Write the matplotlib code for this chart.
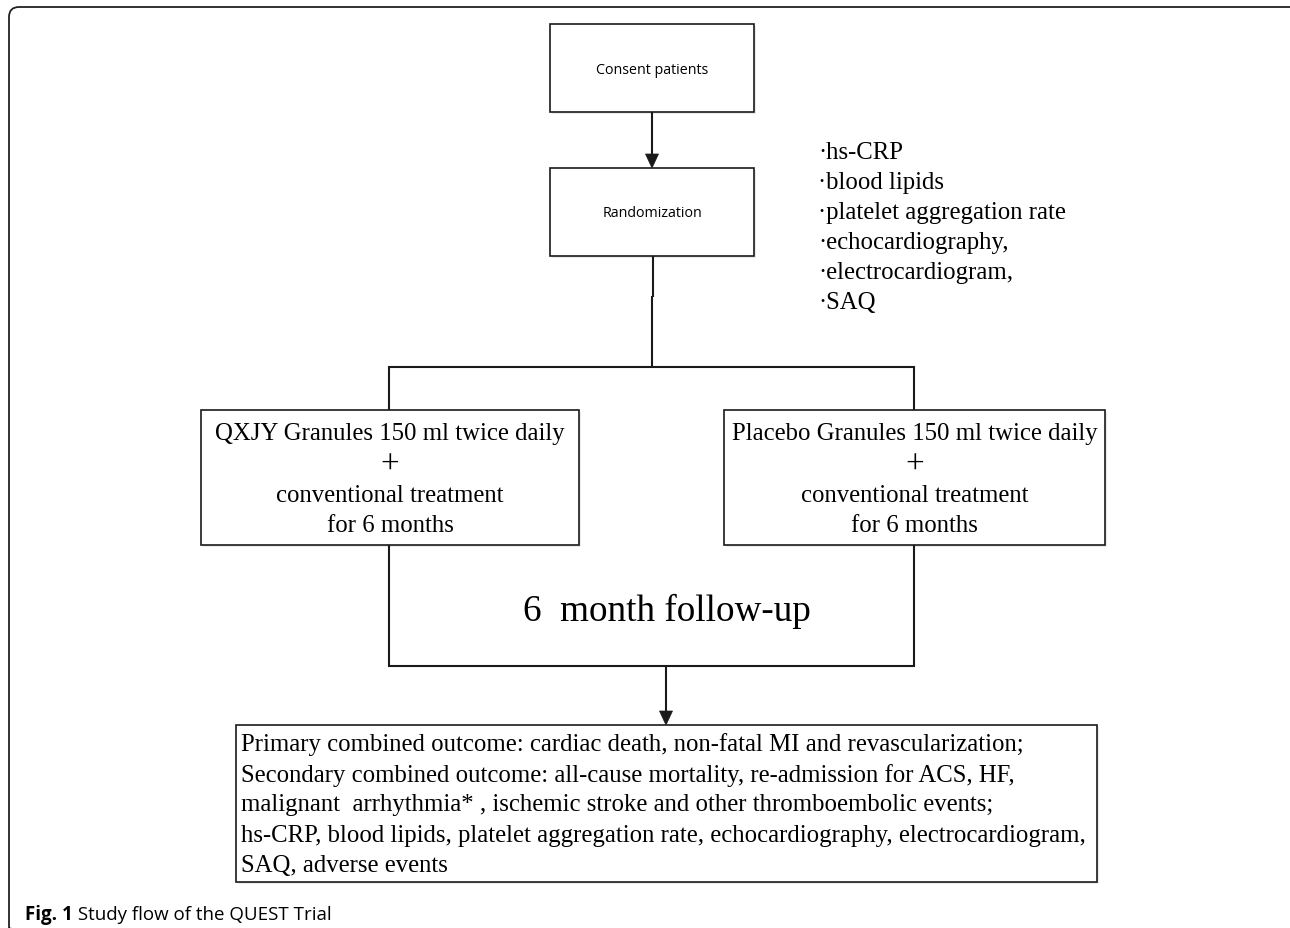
import matplotlib
matplotlib.use("Agg")
import matplotlib.pyplot as plt
from matplotlib.patches import Rectangle, FancyBboxPatch, Polygon

# ---- content ----
top_labels = ["Consent patients", "Randomization"]
measures = ["hs-CRP", "blood lipids", "platelet aggregation rate",
            "echocardiography,", "electrocardiogram,", "SAQ"]
arm_labels = [
    ["QXJY Granules 150 ml twice daily", "+", "conventional treatment", "for 6 months"],
    ["Placebo Granules 150 ml twice daily", "+", "conventional treatment", "for 6 months"],
]
followup_label = "6  month follow-up"
outcome_lines = [
    "Primary combined outcome: cardiac death, non-fatal MI and revascularization;",
    "Secondary combined outcome: all-cause mortality, re-admission for ACS, HF,",
    "malignant  arrhythmia* , ischemic stroke and other thromboembolic events;",
    "hs-CRP, blood lipids, platelet aggregation rate, echocardiography, electrocardiogram,",
    "SAQ, adverse events",
]
caption_bold = "Fig. 1"
caption_text = " Study flow of the QUEST Trial"

W, H = 1290, 929
fig = plt.figure(figsize=(W / 100, H / 100), dpi=100)
ax = fig.add_axes([0, 0, 1, 1])
ax.set_xlim(0, W)
ax.set_ylim(H, 0)
ax.axis("off")

SERIF = ["Liberation Serif", "DejaVu Serif"]
SANS = ["Open Sans", "DejaVu Sans"]
LC = "#1a1a1a"
LW_BOX = 1.2
LW_LINE = 1.5
FS = 17.8


def box(x0, y0, x1, y1):
    ax.add_patch(Rectangle((x0 + 2, y0 + 2), x1 - x0, y1 - y0, fc="#ebebeb", ec="none", zorder=1))
    ax.add_patch(Rectangle((x0, y0), x1 - x0, y1 - y0, fc="white", ec=LC, lw=LW_BOX, zorder=2))


def vline(x, y0, y1):
    ax.plot([x, x], [y0, y1], color=LC, lw=LW_LINE, solid_capstyle="butt", zorder=3)


def hline(y, x0, x1):
    ax.plot([x0, x1], [y, y], color=LC, lw=LW_LINE, solid_capstyle="projecting", zorder=3)


def arrow(x, y0, y1, hw=6.5, hl=14):
    vline(x, y0, y1 - hl + 1)
    ax.add_patch(Polygon([(x - hw, y1 - hl), (x + hw, y1 - hl), (x, y1)],
                         closed=True, fc=LC, ec=LC, lw=0.5, zorder=4))


# outer frame
ax.add_patch(FancyBboxPatch((9, 8), W + 20, H + 2, boxstyle="round,pad=0,rounding_size=10",
                            fc="none", ec="#222222", lw=1.3, zorder=0, clip_on=False))

# top boxes
box(550, 25, 754, 113)
ax.text(652, 70, top_labels[0], family=SANS, fontsize=10.3, ha="center", va="center", zorder=5)
arrow(652, 113, 169)
box(550, 169, 754, 257)
ax.text(652, 213, top_labels[1], family=SANS, fontsize=10.3, ha="center", va="center", zorder=5)

# measures list
for i, m in enumerate(measures):
    ax.text(818, 153 + 30 * i, "\u00b7" + m, family=SERIF, fontsize=FS,
            ha="left", va="center", zorder=5)

# split
vline(653, 257, 298)
vline(652, 297, 368)
hline(368, 389, 914)
vline(389, 368, 411)
vline(914, 368, 411)

# arm boxes
arm_boxes = [(201, 411, 579, 546), (724, 411, 1105, 546)]
line_ys = [434, 465, 496, 526]
for (x0, y0, x1, y1), lines in zip(arm_boxes, arm_labels):
    box(x0, y0, x1, y1)
    cx = (x0 + x1) / 2
    for ly, t in zip(line_ys, lines):
        fs = 24 if t == "+" else FS
        ax.text(cx, ly, t, family=SERIF, fontsize=fs, ha="center", va="center", zorder=5)

# follow-up bracket
vline(389, 546, 667)
vline(914, 546, 667)
hline(667, 389, 914)
ax.text(667, 611, followup_label, family=SERIF, fontsize=26.7, ha="center", va="center", zorder=5)
arrow(666, 667, 726)

# outcome box
box(236, 726, 1097, 883)
for i, t in enumerate(outcome_lines):
    ax.text(241, 745 + 30.2 * i, t, family=SERIF, fontsize=FS, ha="left", va="center", zorder=5)

# caption
t1 = ax.text(25, 915, caption_bold, family=SANS, fontsize=13.5, fontweight="bold",
             ha="left", va="center", zorder=5)
fig.canvas.draw()
bb = t1.get_window_extent()
x_end = ax.transData.inverted().transform((bb.x1, bb.y0))[0]
ax.text(x_end, 915, caption_text, family=SANS, fontsize=13.5, ha="left", va="center", zorder=5)

fig.savefig("out.png", dpi=100)
